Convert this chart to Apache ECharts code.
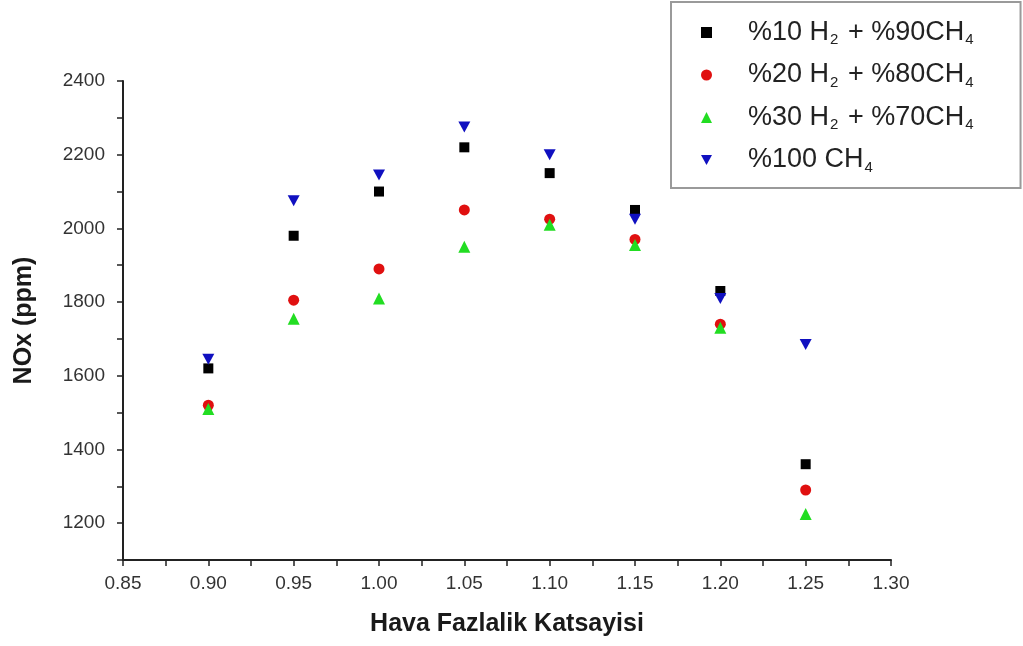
<!DOCTYPE html>
<html>
<head>
<meta charset="utf-8">
<script src="https://cdn.jsdelivr.net/npm/echarts@6/dist/echarts.min.js"></script>
<style>
  html, body { margin: 0; padding: 0; background: #fff; }
  #chart { width: 1023px; height: 646px; }
</style>
</head>
<body>
<div id="chart"></div>
<script>
const lambda = [0.90, 0.95, 1.00, 1.05, 1.10, 1.15, 1.20, 1.25];
const h2_10 = [1620, 1980, 2100, 2220, 2150, 2050, 1830, 1360];
const h2_20 = [1520, 1805, 1890, 2050, 2025, 1970, 1740, 1290];
const h2_30 = [1510, 1755, 1810, 1950, 2010, 1955, 1730, 1225];
const ch4_100 = [1645, 2075, 2145, 2275, 2200, 2025, 1810, 1685];

const names = ['h10', 'h20', 'h30', 'c100'];
const labels = {
    h10: '{p|}{t|%10 H}{s|2}{t| + %90CH}{s|4}',
    h20: '{p|}{t|%20 H}{s|2}{t| + %80CH}{s|4}',
    h30: '{p|}{t|%30 H}{s|2}{t| + %70CH}{s|4}',
    c100: '{p|}{t|%100 CH}{s|4}'
};

const downTri = 'path://M0,0 L10,0 L5,9 Z';

const pairs = function(ys) {
    return lambda.map(function(x, i) { return [x, ys[i]]; });
};

const chart = echarts.init(document.getElementById('chart'));
const font = 'Liberation Sans, Arial, sans-serif';

const option = {
    animation: false,
    textStyle: { fontFamily: font },
    grid: { left: 123, right: 132, top: 81, bottom: 86 },
    legend: {
        orient: 'vertical',
        left: 671,
        top: 2,
        data: names,
        itemWidth: 11,
        itemHeight: 11,
        itemGap: 14,
        padding: [17, 45, 13, 30],
        borderColor: '#9a9a9a',
        borderWidth: 2,
        formatter: function(n) { return labels[n]; },
        textStyle: {
            rich: {
                p: { width: 31 },
                t: { fontSize: 27, color: '#222', fontFamily: font, lineHeight: 30, verticalAlign: 'middle' },
                s: { fontSize: 15, color: '#222', fontFamily: font, lineHeight: 30, verticalAlign: 'bottom', padding: [0, 2, 0, 1] }
            }
        }
    },
    xAxis: {
        type: 'value',
        min: 0.85,
        max: 1.30,
        interval: 0.025,
        name: 'Hava Fazlalik Katsayisi',
        nameLocation: 'middle',
        nameGap: 52,
        nameTextStyle: { fontSize: 25, fontWeight: 'bold', color: '#1a1a1a', fontFamily: font },
        splitLine: { show: false },
        axisLine: { onZero: false, lineStyle: { color: '#222', width: 2 } },
        axisTick: { inside: false, length: 6, lineStyle: { color: '#222', width: 1.5 } },
        axisLabel: {
            fontSize: 19, color: '#333', margin: 14, showMaxLabel: true, showMinLabel: true,
            formatter: function(v) {
                return Math.round(v * 1000) % 50 === 0 ? v.toFixed(2) : '';
            }
        }
    },
    yAxis: {
        type: 'value',
        min: 1100,
        max: 2400,
        interval: 100,
        name: 'NOx (ppm)',
        nameLocation: 'middle',
        nameGap: 86,
        nameTextStyle: { fontSize: 25, fontWeight: 'bold', color: '#1a1a1a', fontFamily: font },
        splitLine: { show: false },
        axisLine: { onZero: false, lineStyle: { color: '#222', width: 2 } },
        axisTick: { inside: false, length: 6, lineStyle: { color: '#222', width: 1.5 } },
        axisLabel: {
            fontSize: 19, color: '#333', margin: 18,
            formatter: function(v) { return v % 200 === 0 ? String(v) : ''; }
        }
    },
    series: [
        { name: 'h10', type: 'scatter', data: pairs(h2_10), symbol: 'rect', symbolSize: 10, itemStyle: { color: '#000', opacity: 1 } },
        { name: 'h20', type: 'scatter', data: pairs(h2_20), symbol: 'circle', symbolSize: 11, itemStyle: { color: '#e01010', opacity: 1 } },
        { name: 'h30', type: 'scatter', data: pairs(h2_30), symbol: 'triangle', symbolSize: 12, itemStyle: { color: '#22dd22', opacity: 1 } },
        { name: 'c100', type: 'scatter', data: pairs(ch4_100), symbol: downTri, symbolSize: [12, 11], itemStyle: { color: '#1010c0', opacity: 1 } }
    ]
};

chart.setOption(option);
</script>
</body>
</html>
